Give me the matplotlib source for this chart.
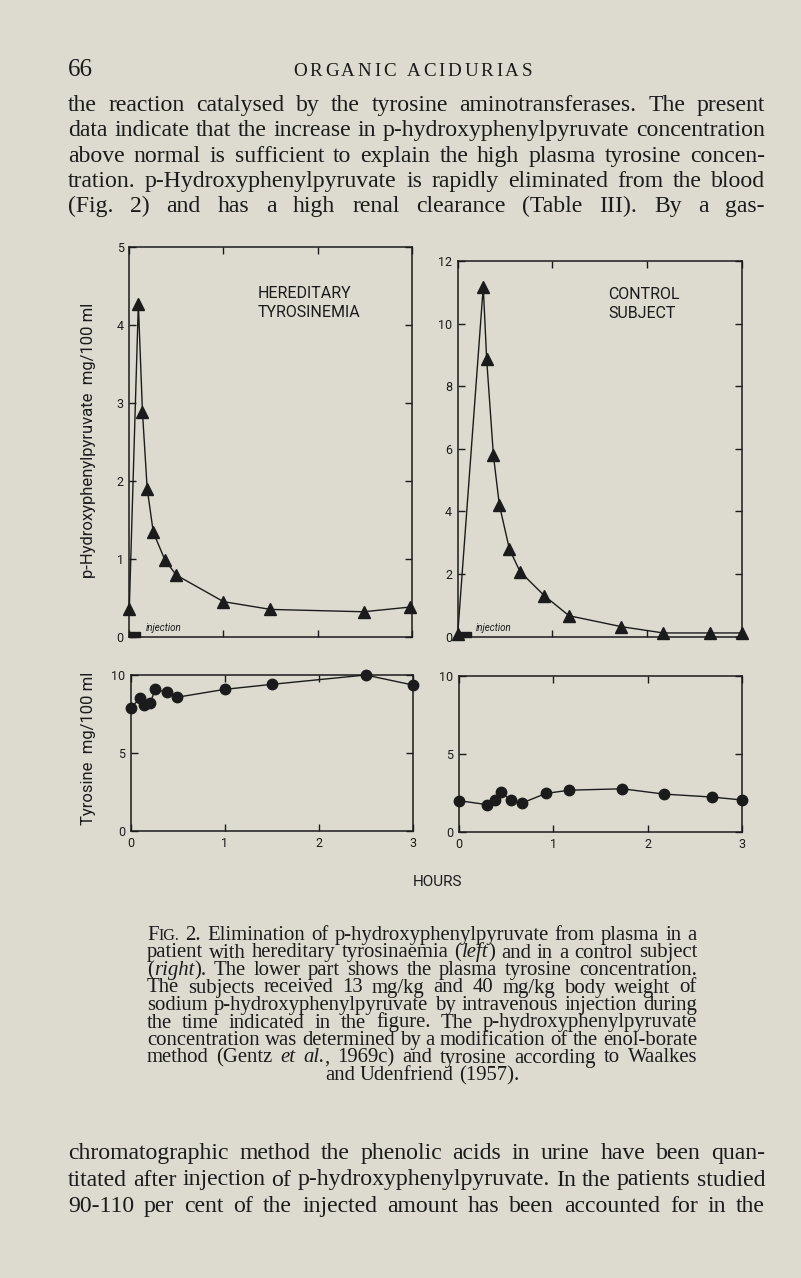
import matplotlib
matplotlib.use('Agg')
import matplotlib.pyplot as plt
from matplotlib.patches import Rectangle

W, H = 801, 1278
BG = '#dddbcf'
INK = '#1b1b1b'
SERIF = 'Liberation Serif'
SANS = 'Roboto'

# ---------------- data ----------------
hours = [0, 1, 2, 3]
hpp_patient_t = [0, 0.096, 0.14, 0.19, 0.255, 0.38, 0.50, 1.0, 1.5, 2.49, 2.98]
hpp_patient = [0.36, 4.27, 2.88, 1.90, 1.34, 0.98, 0.79, 0.45, 0.35, 0.32, 0.38]
hpp_control_t = [0, 0.27, 0.306, 0.377, 0.44, 0.546, 0.658, 0.915, 1.176, 1.73, 2.17, 2.67, 3.0]
hpp_control = [0.08, 11.18, 8.86, 5.80, 4.21, 2.80, 2.08, 1.31, 0.67, 0.32, 0.12, 0.12, 0.12]
tyr_patient_t = [0, 0.10, 0.145, 0.206, 0.26, 0.39, 0.49, 1.0, 1.5, 2.5, 3.0]
tyr_patient = [7.9, 8.5, 8.08, 8.18, 9.08, 8.89, 8.57, 9.08, 9.40, 10.0, 9.36]
tyr_control_t = [0, 0.30, 0.38, 0.445, 0.547, 0.67, 0.918, 1.168, 1.73, 2.17, 2.68, 3.0]
tyr_control = [2.01, 1.75, 2.07, 2.54, 2.05, 1.86, 2.47, 2.68, 2.77, 2.43, 2.24, 2.05]
injection_patient = (0.0, 0.11)
injection_control = (0.0, 0.14)
hpp_patient_yticks = [0, 1, 2, 3, 4, 5]
hpp_control_yticks = [0, 2, 4, 6, 8, 10, 12]
tyr_yticks = [0, 5, 10]

header_num = '66'
header_title = 'ORGANIC ACIDURIAS'
para1 = [
    'the reaction catalysed by the tyrosine aminotransferases. The present',
    'data indicate that the increase in p-hydroxyphenylpyruvate concentration',
    'above normal is sufficient to explain the high plasma tyrosine concen-',
    'tration. p-Hydroxyphenylpyruvate is rapidly eliminated from the blood',
    '(Fig. 2) and has a high renal clearance (Table III). By a gas-',
]
caption = [
    'F{IG.} 2. Elimination of p-hydroxyphenylpyruvate from plasma in a',
    'patient with hereditary tyrosinaemia (*left*) and in a control subject',
    '(*right*). The lower part shows the plasma tyrosine concentration.',
    'The subjects received 13 mg/kg and 40 mg/kg body weight of',
    'sodium p-hydroxyphenylpyruvate by intravenous injection during',
    'the time indicated in the figure. The p-hydroxyphenylpyruvate',
    'concentration was determined by a modification of the enol-borate',
    'method (Gentz *et al.*, 1969c) and tyrosine according to Waalkes',
    'and Udenfriend (1957).',
]
para2 = [
    'chromatographic method the phenolic acids in urine have been quan-',
    'titated after injection of p-hydroxyphenylpyruvate. In the patients studied',
    '90-110 per cent of the injected amount has been accounted for in the',
]

# ---------------- figure ----------------
fig = plt.figure(figsize=(W / 100, H / 100), dpi=100, facecolor=BG)
renderer = fig.canvas.get_renderer()


def px_axes(x0, y0, x1, y1):
    return fig.add_axes([x0 / W, 1 - y1 / H, (x1 - x0) / W, (y1 - y0) / H])


def style_axes(ax, ylim, yticks, xlabels):
    ax.set_facecolor('none')
    ax.set_xlim(0, 3)
    ax.set_ylim(*ylim)
    ax.set_xticks(hours)
    ax.set_yticks(yticks)
    for s in ax.spines.values():
        s.set_linewidth(1.1)
        s.set_color(INK)
    ax.tick_params(direction='in', top=True, right=True, length=5, width=1,
                   colors=INK, labelsize=9, pad=4)
    for lab in ax.get_yticklabels() + ax.get_xticklabels():
        lab.set_family(SANS)
    if not xlabels:
        ax.set_xticklabels([])


def injection(ax, span, hfrac, tx):
    ax.add_patch(Rectangle((span[0], 0), span[1] - span[0], hfrac,
                           transform=ax.get_xaxis_transform(), color=INK,
                           clip_on=False, zorder=5))
    ax.text(tx, 0.014, 'injection', transform=ax.get_xaxis_transform(),
            style='italic', fontsize=7, family=SANS, color=INK)


ax1 = px_axes(129.3, 247, 411.7, 636.7)
style_axes(ax1, (0, 5), hpp_patient_yticks, False)
ax1.plot(hpp_patient_t, hpp_patient, '-^', color=INK, lw=1, ms=8.5, clip_on=False, zorder=4)
injection(ax1, injection_patient, 0.011, 0.17)
ax1.text(0.455, 0.9, 'HEREDITARY\nTYROSINEMIA', transform=ax1.transAxes,
         fontsize=11.5, family=SANS, color=INK, va='top', linespacing=1.35)

ax2 = px_axes(457.7, 261, 741.7, 636.7)
style_axes(ax2, (0, 12), hpp_control_yticks, False)
ax2.plot(hpp_control_t, hpp_control, '-^', color=INK, lw=1, ms=8.5, clip_on=False, zorder=4)
injection(ax2, injection_control, 0.013, 0.19)
ax2.text(0.53, 0.93, 'CONTROL\nSUBJECT', transform=ax2.transAxes,
         fontsize=11.5, family=SANS, color=INK, va='top', linespacing=1.35)

ax3 = px_axes(130.7, 675, 412.7, 831)
style_axes(ax3, (0, 10), tyr_yticks, True)
ax3.plot(tyr_patient_t, tyr_patient, '-o', color=INK, lw=1, ms=7.5, clip_on=False, zorder=4)

ax4 = px_axes(459, 676, 742.3, 832)
style_axes(ax4, (0, 10), tyr_yticks, True)
ax4.plot(tyr_control_t, tyr_control, '-o', color=INK, lw=1, ms=7.5, clip_on=False, zorder=4)

fig.text(89 / W, 1 - 440 / H, 'p-Hydroxyphenylpyruvate  mg/100 ml', rotation=90,
         ha='center', va='center', fontsize=12, family=SANS, color=INK)
fig.text(89 / W, 1 - 748 / H, 'Tyrosine  mg/100 ml', rotation=90,
         ha='center', va='center', fontsize=12, family=SANS, color=INK)
fig.text(437 / W, 1 - 886 / H, 'HOURS', ha='center', va='baseline',
         fontsize=11, family=SANS, color=INK)


# ---------------- page text ----------------
def seg_width(s, size, italic=False, family=SERIF):
    t = fig.text(0, 0, s, fontsize=size, style='italic' if italic else 'normal', family=family)
    w = t.get_window_extent(renderer=renderer).width
    t.remove()
    return w


def parse(line):
    words, italic = [], False
    for w in line.split(' '):
        segs, cur, small = [], '', False
        for ch in w:
            if ch in '*{}':
                if cur:
                    segs.append((cur, italic, small))
                    cur = ''
                if ch == '*':
                    italic = not italic
                elif ch == '{':
                    small = True
                else:
                    small = False
            else:
                cur += ch
        if cur:
            segs.append((cur, italic, small))
        words.append(segs)
    return words


def natural_width(line, size):
    words = parse(line)
    tot = sum(seg_width(s, size * (0.78 if sm else 1), it) for segs in words for s, it, sm in segs)
    return tot + 0.22 * size * 100 / 72 * (len(words) - 1)


def draw_line(line, y, x0, x1, size, mode='justify'):
    words = parse(line)
    widths = [[seg_width(s, size * (0.78 if sm else 1), it) for s, it, sm in segs] for segs in words]
    total = sum(sum(w) for w in widths)
    n = len(words)
    normal_gap = 0.25 * size * 100 / 72
    gap = (x1 - x0 - total) / (n - 1) if (mode == 'justify' and n > 1) else normal_gap
    if mode == 'center':
        x = (x0 + x1) / 2 - (total + gap * (n - 1)) / 2
    else:
        x = x0
    for segs, ws in zip(words, widths):
        for (s, it, sm), w in zip(segs, ws):
            fig.text(x / W, 1 - y / H, s, fontsize=size * (0.78 if sm else 1),
                     style='italic' if it else 'normal', family=SERIF,
                     color=INK, va='baseline', ha='left')
            x += w
        x += gap


def fit_size(lines, width, frac=0.995):
    w10 = max(natural_width(l, 10) for l in lines)
    return 10 * width * frac / w10


body_size = fit_size([para1[1], para2[1]], 765 - 68)
cap_size = fit_size([caption[0], caption[6], caption[2]], 697 - 147)

# header
fig.text(68 / W, 1 - 76 / H, header_num, fontsize=body_size * 1.05, family=SERIF,
         color=INK, va='baseline')
hsize = body_size * 0.8
chars = list(header_title)
cw = [seg_width(c, hsize) if c != ' ' else 0 for c in chars]
space_px = 0.3 * hsize * 100 / 72
span = 532 - 293
n_gaps = len(chars) - 1
track = (span - sum(cw) - space_px) / n_gaps
x = 293
for c, w in zip(chars, cw):
    if c == ' ':
        x += space_px + track
        continue
    fig.text(x / W, 1 - 76 / H, c, fontsize=hsize, family=SERIF, color=INK, va='baseline')
    x += w + track

for i, l in enumerate(para1):
    draw_line(l, 111 + i * 25.3, 68, 765, body_size)
for i, l in enumerate(caption):
    mode = 'center' if i == len(caption) - 1 else 'justify'
    draw_line(l, 940 + i * 17.5, 147, 697, cap_size, mode)
for i, l in enumerate(para2):
    draw_line(l, 1159 + i * 26.5, 68, 765, body_size)

fig.savefig('out.png', dpi=100, facecolor=BG)
